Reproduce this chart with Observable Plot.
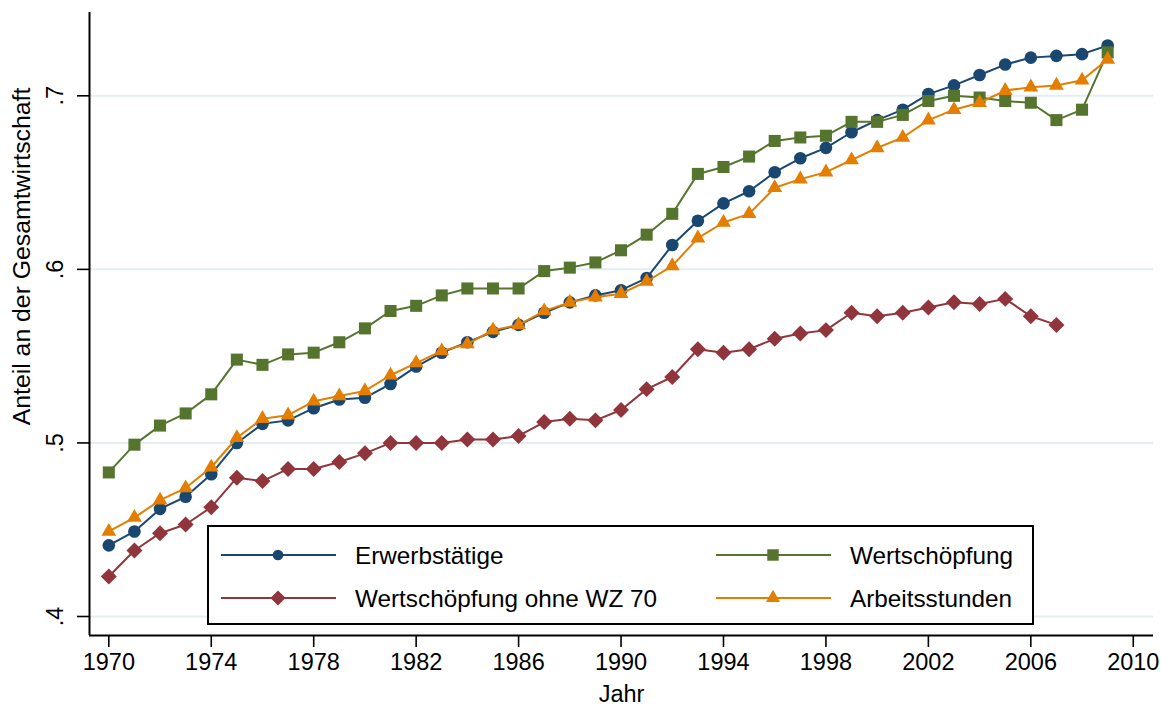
<!DOCTYPE html>
<html><head><meta charset="utf-8">
<script src="https://cdn.jsdelivr.net/npm/d3@7"></script>
<script src="https://cdn.jsdelivr.net/npm/@observablehq/plot@0.6"></script>
<style>
body{margin:0;background:#fff;font-family:"Liberation Sans",Arial,sans-serif;}
#wrap{position:relative;width:1161px;height:704px;overflow:hidden;}
#legend{position:absolute;left:207px;top:525px;width:827px;height:100px;box-sizing:border-box;border:2px solid #000;background:#fff;}
#legend svg{position:absolute;left:-2px;top:-2px;}
</style></head><body><div id="wrap"></div>
<script>
const years = [1970,1971,1972,1973,1974,1975,1976,1977,1978,1979,1980,1981,1982,1983,1984,1985,1986,1987,1988,1989,
  1990,1991,1992,1993,1994,1995,1996,1997,1998,1999,2000,2001,2002,2003,2004,2005,2006,2007,2008,2009];

const erwerbstaetige = [.441,.449,.462,.469,.482,.500,.511,.513,.520,.525,.526,.534,.544,.552,.558,.564,.568,.575,.581,.585,
  .588,.595,.614,.628,.638,.645,.656,.664,.670,.679,.686,.692,.701,.706,.712,.718,.722,.723,.724,.729];
const wertschoepfung = [.483,.499,.510,.517,.528,.548,.545,.551,.552,.558,.566,.576,.579,.585,.589,.589,.589,.599,.601,.604,
  .611,.620,.632,.655,.659,.665,.674,.676,.677,.685,.685,.689,.697,.700,.699,.697,.696,.686,.692,.725];
const ohneWZ70 = [.423,.438,.448,.453,.463,.480,.478,.485,.485,.489,.494,.500,.500,.500,.502,.502,.504,.512,.514,.513,
  .519,.531,.538,.554,.552,.554,.560,.563,.565,.575,.573,.575,.578,.581,.580,.583,.573,.568];
const arbeitsstunden = [.449,.457,.467,.474,.486,.503,.514,.516,.524,.527,.530,.539,.546,.553,.557,.565,.568,.576,.581,.584,
  .586,.593,.602,.618,.627,.632,.647,.652,.656,.663,.670,.676,.686,.692,.696,.703,.705,.706,.709,.721];

const seriesNames = ["Erwerbstätige","Wertschöpfung","Wertschöpfung ohne WZ 70","Arbeitsstunden"];
const seriesValues = [erwerbstaetige, wertschoepfung, ohneWZ70, arbeitsstunden];
const seriesColors = ["#1a476f","#55752f","#90353b","#e37e00"];
const seriesSymbols = ["circle","square","diamond2","triangle"];
const seriesR = [6.3, 6.8, 7.2, 5.5];

const xTicks = [1970,1974,1978,1982,1986,1990,1994,1998,2002,2006,2010];
const yTicks = [0.4,0.5,0.6,0.7];
const yTickLabels = [".4",".5",".6",".7"];
const xTitle = "Jahr";
const yTitle = "Anteil an der Gesamtwirtschaft";

const xDomain = [1969.246, 2010.79];
const yDomain = [0.38905, 0.748];

const tables = seriesValues.map((vals, s) => vals.map((v, i) => ({year: years[i], value: v, series: seriesNames[s]})));

const seriesMarks = [];
tables.forEach((rows, s) => {
  seriesMarks.push(Plot.line(rows, {x: "year", y: "value", stroke: seriesColors[s], strokeWidth: 2}));
  seriesMarks.push(Plot.dot(rows, {x: "year", y: "value", fill: seriesColors[s], symbol: seriesSymbols[s], r: seriesR[s], stroke: "none"}));
});

const chart = Plot.plot({
  width: 1161, height: 704,
  marginLeft: 89, marginRight: 8, marginTop: 12, marginBottom: 69,
  style: {fontFamily: "'Liberation Sans', Arial, sans-serif", fontSize: "23px", color: "#000", background: "#fff", overflow: "visible"},
  x: {domain: xDomain},
  y: {domain: yDomain},
  marks: [
    Plot.gridY(yTicks, {stroke: "#e4eef0", strokeOpacity: 1, strokeWidth: 2}),
    Plot.axisX({ticks: xTicks, tickSize: 12, tickPadding: 6, tickFormat: d => String(d), label: null, strokeWidth: 1.6, fontSize: 23.5}),
    Plot.axisY({ticks: yTicks, tickSize: 12, tickFormat: () => "", label: null, strokeWidth: 1.6}),
    Plot.ruleX([xDomain[0]], {stroke: "#000", strokeWidth: 2}),
    Plot.ruleY([yDomain[0]], {stroke: "#000", strokeWidth: 2}),
    ...seriesMarks,
    Plot.text(yTicks, {y: d => d, text: (d, i) => yTickLabels[i], frameAnchor: "left", dx: -34, rotate: -90, textAnchor: "middle", lineAnchor: "middle", fontSize: 23.5}),
    Plot.text([yTitle], {frameAnchor: "top-left", dx: -67, dy: 244, rotate: -90, textAnchor: "middle", lineAnchor: "middle", fontSize: 24.8}),
    Plot.text([xTitle], {frameAnchor: "bottom", dy: 59, lineAnchor: "middle", fontSize: 23.5})
  ]
});

const wrap = document.getElementById("wrap");
wrap.appendChild(chart);

// Legend (inside plot, bottom)
const legend = document.createElement("div");
legend.id = "legend";
wrap.appendChild(legend);
const lsvg = d3.select(legend).append("svg").attr("width", 827).attr("height", 100);
const items = [
  {s: 0, x0: 14, y: 30},
  {s: 1, x0: 509, y: 30},
  {s: 2, x0: 14, y: 73},
  {s: 3, x0: 509, y: 73}
];
const d3sym = {circle: d3.symbolCircle, square: d3.symbolSquare, diamond2: d3.symbolDiamond2, triangle: d3.symbolTriangle};
items.forEach(it => {
  const g = lsvg.append("g");
  g.append("line").attr("x1", it.x0).attr("x2", it.x0 + 115).attr("y1", it.y).attr("y2", it.y)
    .attr("stroke", seriesColors[it.s]).attr("stroke-width", 2);
  const r = seriesR[it.s] * (it.s === 0 ? 0.85 : 0.95);
  g.append("path").attr("transform", `translate(${it.x0 + 57},${it.y})`)
    .attr("d", d3.symbol(d3sym[seriesSymbols[it.s]], Math.PI * r * r)())
    .attr("fill", seriesColors[it.s]);
  g.append("text").attr("x", it.x0 + 134).attr("y", it.y).attr("dy", "0.36em")
    .attr("font-size", 24.3).attr("font-family", "'Liberation Sans', Arial, sans-serif").attr("fill", "#000")
    .text(seriesNames[it.s]);
});
</script>
</body></html>
